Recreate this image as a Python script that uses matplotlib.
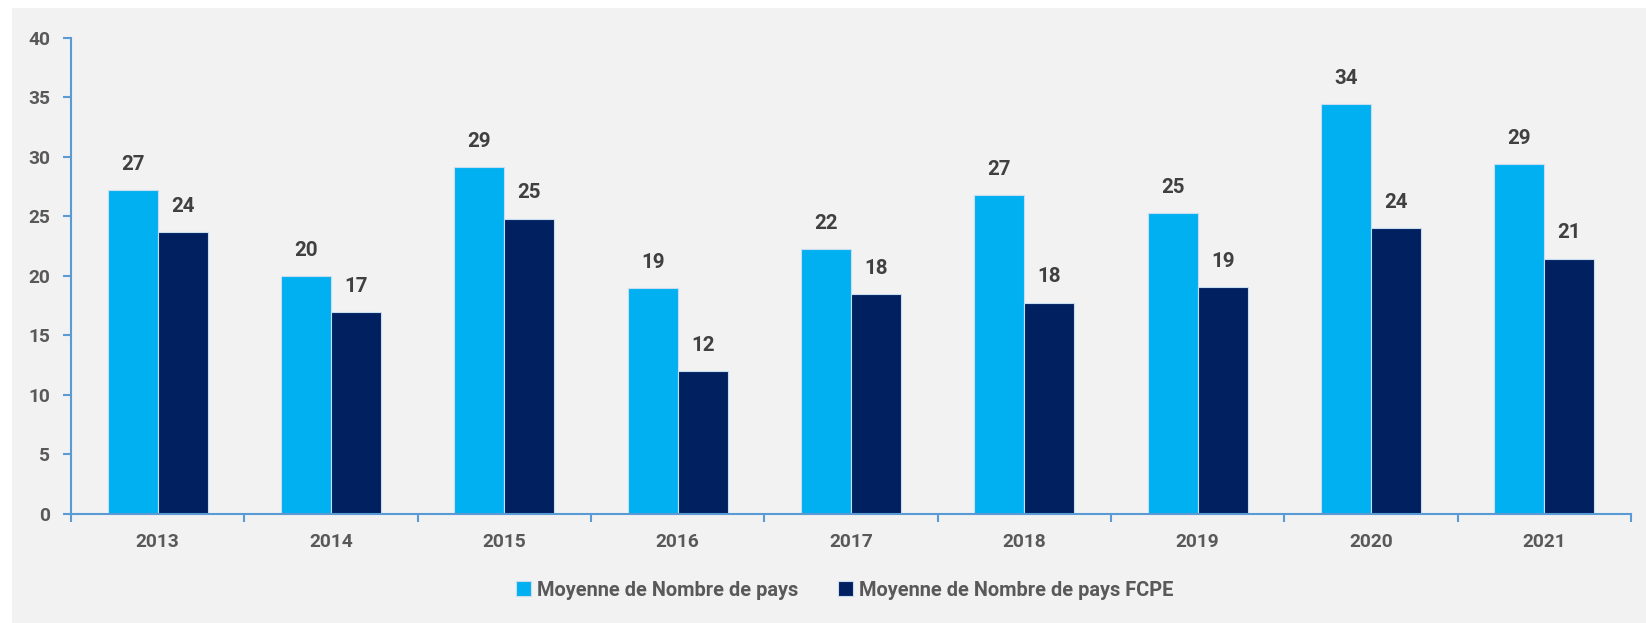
import matplotlib
matplotlib.use("Agg")
import matplotlib.pyplot as plt
from matplotlib.patches import Rectangle
import numpy as np

years = ["2013", "2014", "2015", "2016", "2017", "2018", "2019", "2020", "2021"]
nb_pays = [27.2, 20.0, 29.1, 19.0, 22.25, 26.75, 25.3, 34.4, 29.4]
nb_pays_fcpe = [23.7, 16.95, 24.8, 12.0, 18.45, 17.75, 19.07, 24.0, 21.45]
labels_pays = ["27", "20", "29", "19", "22", "27", "25", "34", "29"]
labels_fcpe = ["24", "17", "25", "12", "18", "18", "19", "24", "21"]

C_LIGHT = "#00B0F0"
C_DARK = "#002060"
C_AXIS = "#5B9BD5"
C_TICK = "#595959"
C_LAB = "#404040"
FONT = ["Roboto", "DejaVu Sans"]
plt.rcParams["font.family"] = FONT

fig = plt.figure(figsize=(16.46, 6.23), dpi=100)
fig.patch.set_facecolor("white")
fig.patches.append(Rectangle((12 / 1646, 0), 1, 1 - 8 / 623, transform=fig.transFigure,
                             fc="#F2F2F2", ec="none", zorder=-10))

ax = fig.add_axes([71 / 1646, 1 - 514 / 623, (1631 - 71) / 1646, (514 - 37.7) / 623])
ax.set_facecolor("none")

x = np.arange(len(years))
w = 0.288
b1 = ax.bar(x - w / 2, nb_pays, w, color=C_LIGHT, edgecolor="#C9DDF0", lw=0.8,
            label="Moyenne de Nombre de pays")
b2 = ax.bar(x + w / 2, nb_pays_fcpe, w, color=C_DARK, edgecolor="#C9DDF0", lw=0.8,
            label="Moyenne de Nombre de pays FCPE")

for bars, labs in ((b1, labels_pays), (b2, labels_fcpe)):
    for rect, lab in zip(bars, labs):
        ax.annotate(lab, (rect.get_x() + rect.get_width() / 2, rect.get_height()),
                    xytext=(0, 18.5), textcoords="offset points", ha="center", va="center",
                    fontsize=14.8, weight="bold", color=C_LAB)

ax.set_xlim(-0.5, len(years) - 0.5)
ax.set_ylim(0, 40)
ax.set_yticks(range(0, 41, 5))
ax.set_xticks(np.arange(len(years) + 1) - 0.5)
ax.set_xticklabels([])
ax.set_xticks(x, minor=True)
ax.set_xticklabels(years, minor=True)

for s in ("top", "right"):
    ax.spines[s].set_visible(False)
for s in ("left", "bottom"):
    ax.spines[s].set_color(C_AXIS)
    ax.spines[s].set_linewidth(1.5)

ax.tick_params(axis="y", length=6, width=1.5, color=C_AXIS, pad=9,
               labelsize=13.8, labelcolor=C_TICK)
ax.tick_params(axis="x", which="major", length=6, width=1.5, color=C_AXIS)
ax.tick_params(axis="x", which="minor", length=0, pad=13.5, labelsize=13.8, labelcolor=C_TICK)
for t in ax.get_yticklabels() + ax.get_xticklabels(minor=True):
    t.set_fontweight("bold")

leg = fig.legend(handles=[b1, b2], loc="center", bbox_to_anchor=(845 / 1646, 1 - 590 / 623),
                 ncol=2, frameon=False, handlelength=0.75, handleheight=0.75,
                 handletextpad=0.3, columnspacing=2.0,
                 prop={"family": FONT, "weight": "bold", "size": 14.4})
for t in leg.get_texts():
    t.set_color(C_TICK)

fig.savefig("out.png", dpi=100, facecolor="white")
